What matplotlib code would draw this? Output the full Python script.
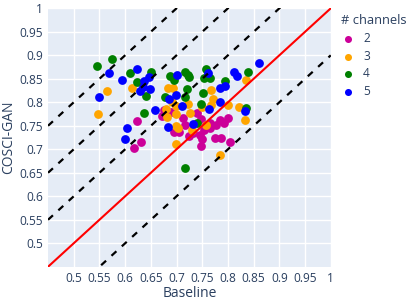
import matplotlib
matplotlib.use("Agg")
import matplotlib.pyplot as plt
import numpy as np

plt.rcParams['font.family'] = ['Open Sans', 'DejaVu Sans']

# channel 2 (magenta)
x2 = [0.617, 0.624, 0.630, 0.672, 0.675, 0.690, 0.695, 0.705, 0.713, 0.717, 0.725, 0.733, 0.740,
      0.748, 0.746, 0.750, 0.748, 0.753, 0.766, 0.766, 0.774, 0.776, 0.784, 0.787, 0.792, 0.800, 0.804]
y2 = [0.702, 0.760, 0.716, 0.770, 0.784, 0.780, 0.737, 0.737, 0.766, 0.752, 0.728, 0.734, 0.777,
      0.764, 0.730, 0.722, 0.707, 0.741, 0.745, 0.756, 0.723, 0.752, 0.762, 0.723, 0.755, 0.767, 0.716]
# channel 3 (orange)
x3 = [0.548, 0.564, 0.613, 0.683, 0.693, 0.691, 0.699, 0.722, 0.680, 0.682, 0.698, 0.727, 0.698,
      0.702, 0.730, 0.758, 0.698, 0.784, 0.767, 0.771, 0.767, 0.750, 0.800, 0.821, 0.836, 0.834]
y3 = [0.775, 0.824, 0.831, 0.830, 0.831, 0.801, 0.793, 0.796, 0.786, 0.768, 0.775, 0.778, 0.750,
      0.745, 0.741, 0.752, 0.711, 0.688, 0.826, 0.807, 0.794, 0.791, 0.795, 0.790, 0.848, 0.762]
# channel 4 (green)
x4 = [0.546, 0.574, 0.610, 0.624, 0.651, 0.640, 0.636, 0.687, 0.695, 0.717, 0.722, 0.724, 0.720,
      0.678, 0.717, 0.758, 0.754, 0.766, 0.794, 0.752, 0.747, 0.839, 0.836, 0.740, 0.717]
y4 = [0.877, 0.893, 0.863, 0.843, 0.865, 0.814, 0.777, 0.855, 0.847, 0.865, 0.858, 0.853, 0.828,
      0.811, 0.812, 0.870, 0.851, 0.851, 0.845, 0.820, 0.796, 0.864, 0.788, 0.755, 0.661]
# channel 5 (blue)
x5 = [0.549, 0.568, 0.593, 0.624, 0.636, 0.646, 0.634, 0.628, 0.648, 0.659, 0.604, 0.600, 0.700,
      0.685, 0.699, 0.711, 0.761, 0.811, 0.818, 0.860, 0.784, 0.795, 0.785, 0.763, 0.834, 0.732, 0.683]
y5 = [0.811, 0.863, 0.847, 0.870, 0.845, 0.853, 0.833, 0.823, 0.828, 0.784, 0.746, 0.721, 0.858,
      0.807, 0.816, 0.793, 0.862, 0.865, 0.855, 0.883, 0.831, 0.835, 0.801, 0.785, 0.781, 0.754, 0.748]

channels = ['2', '3', '4', '5']
colors = ['#cc0099', '#ffa500', '#008000', '#0000ff']
xs = [x2, x3, x4, x5]
ys = [y2, y3, y4, y5]

offsets = [0.3, 0.2, 0.1, -0.1]
ticks = np.round(np.arange(0.5, 1.0001, 0.05), 2)
tick_labels = ['0.5', '0.55', '0.6', '0.65', '0.7', '0.75', '0.8', '0.85', '0.9', '0.95', '1']

fig = plt.figure(figsize=(4.15, 3.02), dpi=100)
ax = fig.add_axes([0.1157, 0.1166, 0.797 - 0.1157, 0.9725 - 0.1166])
ax.set_facecolor('#e5ecf6')
for s in ax.spines.values():
    s.set_visible(False)

for xv, yv, c, lab in zip(xs, ys, colors, channels):
    ax.scatter(xv, yv, s=40, color=c, label=lab, zorder=3, linewidths=0)

line = np.array([0.45, 1.0])
ax.plot(line, line, color='red', lw=1.5, zorder=4)
for o in offsets:
    ax.plot(line, line + o, color='black', lw=1.6, linestyle=(0, (3, 3.3)), zorder=4)

ax.set_xlim(0.45, 1.0)
ax.set_ylim(0.45, 1.0)
ax.set_xticks(ticks)
ax.set_xticklabels(tick_labels)
ax.set_yticks(ticks)
ax.set_yticklabels(tick_labels)
ax.grid(True, color='white', lw=1)
ax.set_axisbelow(True)
ax.tick_params(length=0, labelsize=8.6, colors='#2a3f5f', pad=3.5)
ax.set_xlabel('Baseline', fontsize=10, color='#2a3f5f')
ax.set_ylabel('COSCI-GAN', fontsize=10, color='#2a3f5f')
ax.xaxis.set_label_coords(0.5, -0.075)
ax.yaxis.set_label_coords(-0.113, 0.5)

leg = ax.legend(title='# channels', loc='upper left', bbox_to_anchor=(1.005, 1.01),
                frameon=False, fontsize=8.6, title_fontsize=9.3, markerscale=0.8,
                handlelength=1.2, handletextpad=0.7, labelspacing=0.4, borderaxespad=0.3)
leg._legend_box.align = 'left'
for t in leg.get_texts():
    t.set_color('#2a3f5f')
leg.get_title().set_color('#2a3f5f')

fig.savefig('out.png', dpi=100)
